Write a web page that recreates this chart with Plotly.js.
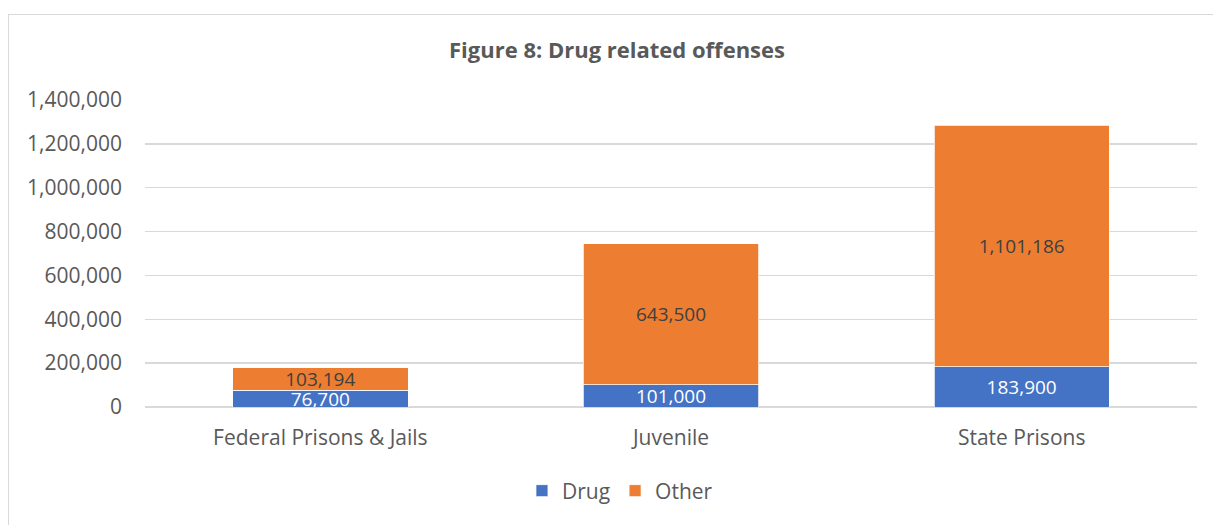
<!DOCTYPE html>
<html>
<head>
<meta charset="utf-8">
<script src="https://cdn.plot.ly/plotly-3.0.1.min.js"></script>
<style>
  html, body { margin: 0; padding: 0; background: #ffffff; }
  #frame { position: absolute; left: 8px; top: 14px; width: 1230px; height: 540px;
           border: 1px solid #D9D9D9; box-sizing: border-box; }
  #chart { position: absolute; left: 0; top: 0; width: 1213px; height: 525px; }
</style>
</head>
<body>
<div id="frame"></div>
<div id="chart"></div>
<script>
// Offense counts by facility type
const categories = ["Federal Prisons & Jails", "Juvenile", "State Prisons"];
const drugValues = [76700, 101000, 183900];
const otherValues = [103194, 643500, 1101186];
const yTickValues = [0, 200000, 400000, 600000, 800000, 1000000, 1200000, 1400000];
const yTickLabels = ["0", "200,000", "400,000", "600,000", "800,000", "1,000,000", "1,200,000", "1,400,000"];

const fmt = v => v.toLocaleString("en-US");
const FONT = "Open Sans, Liberation Sans, sans-serif";
const GREY = "#595959";

const traces = [
  {
    type: "bar", name: "Drug", x: categories, y: drugValues,
    text: drugValues.map(fmt), textposition: "inside", insidetextanchor: "middle",
    textangle: 0, constraintext: "none",
    textfont: { family: FONT, size: 19, color: "#ffffff" },
    marker: { color: "#4472C4", line: { color: "#ffffff", width: 0.75 } },
    hoverinfo: "skip"
  },
  {
    type: "bar", name: "Other", x: categories, y: otherValues,
    text: otherValues.map(fmt), textposition: "inside", insidetextanchor: "middle",
    textangle: 0, constraintext: "none",
    textfont: { family: FONT, size: 19, color: "#404040" },
    marker: { color: "#ED7D31", line: { color: "#ffffff", width: 0.75 } },
    hoverinfo: "skip"
  }
];

const layout = {
  width: 1213, height: 525,
  paper_bgcolor: "rgba(0,0,0,0)", plot_bgcolor: "rgba(0,0,0,0)",
  margin: { l: 145, r: 16, t: 100, b: 118 },
  barmode: "stack", bargap: 0.5,
  font: { family: FONT, color: GREY, size: 21 },
  title: {
    text: "<b>Figure 8: Drug related offenses</b>",
    font: { family: FONT, size: 22, color: GREY },
    x: 617 / 1213, xanchor: "center", xref: "container",
    y: 1 - 50 / 525, yanchor: "middle", yref: "container"
  },
  xaxis: {
    type: "category", showgrid: false, showline: false, ticks: "", zeroline: false,
    tickfont: { family: FONT, size: 21, color: GREY }, ticklabelstandoff: 16
  },
  yaxis: {
    range: [0, 1400000], tickmode: "array", tickvals: yTickValues, ticktext: yTickLabels,
    showgrid: true, gridcolor: "#D9D9D9", gridwidth: 1.3,
    zeroline: true, zerolinecolor: "#D9D9D9", zerolinewidth: 1.3,
    showline: false, ticks: "",
    tickfont: { family: FONT, size: 21, color: GREY }, ticklabelstandoff: 22
  },
  showlegend: true,
  legend: {
    orientation: "h", x: 0.4515, xanchor: "center", y: (407 - 491) / 307, yanchor: "middle",
    font: { family: FONT, size: 21, color: GREY }, traceorder: "normal",
    itemwidth: 30, itemclick: false, itemdoubleclick: false
  }
};

Plotly.newPlot("chart", traces, layout, { displayModeBar: false, staticPlot: true });
</script>
</body>
</html>
